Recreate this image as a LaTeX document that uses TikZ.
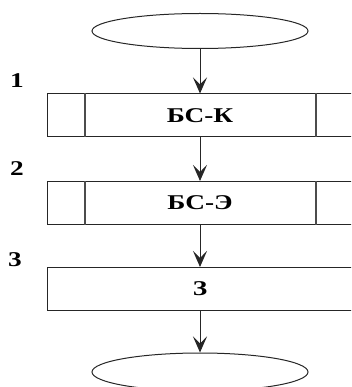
\documentclass[tikz,border=0pt]{standalone}
\usepackage{fontspec}
\setmainfont{Liberation Serif}
\usetikzlibrary{arrows.meta,shapes.geometric}
\tikzset{
  term/.style={draw=black!85, line width=1pt, ellipse, minimum width=216pt, minimum height=35pt, inner sep=0pt},
  blk/.style={draw=black!85, line width=1pt, rectangle, minimum width=306pt, minimum height=43pt, inner sep=0pt,
    font=\fontsize{21}{21}\selectfont\bfseries},
  num/.style={font=\fontsize{21}{21}\selectfont\bfseries, inner sep=0pt},
  flow/.style={draw=black!85, line width=1pt, -{Stealth[length=16pt,width=14pt,inset=7pt]}},
  sep/.style={draw=black!70, line width=1.2pt}
}
\newcommand{\wtxt}[1]{\scalebox{1.3}[1]{#1}}
\begin{document}
\begin{tikzpicture}[x=1pt,y=-1pt]
\useasboundingbox (0,0) rectangle (351,387);
\clip (0,0) rectangle (351,387);
\node[term] (start) at (200,31) {};
\node[blk] (b1) at (200,115.5) {\wtxt{БС-К}};
\node[blk] (b2) at (200,203) {\wtxt{БС-Э}};
\node[blk] (b3) at (200,289) {\wtxt{З}};
\node[term, minimum height=38pt] (stop) at (200,372) {};
\node[num] (n1) at (17,81) {\wtxt{1}};
\node[num] (n2) at (17,169) {\wtxt{2}};
\node[num] (n3) at (15,260) {\wtxt{3}};
\draw[sep] (85,0 |- b1.north) -- (85,0 |- b1.south);
\draw[sep] (316,0 |- b1.north) -- (316,0 |- b1.south);
\draw[sep] (85,0 |- b2.north) -- (85,0 |- b2.south);
\draw[sep] (316,0 |- b2.north) -- (316,0 |- b2.south);
\draw[flow] (start.south) -- (b1.north);
\draw[flow] (b1.south) -- (b2.north);
\draw[flow] (b2.south) -- (b3.north);
\draw[flow] (b3.south) -- (stop.north);
\end{tikzpicture}
\end{document}
